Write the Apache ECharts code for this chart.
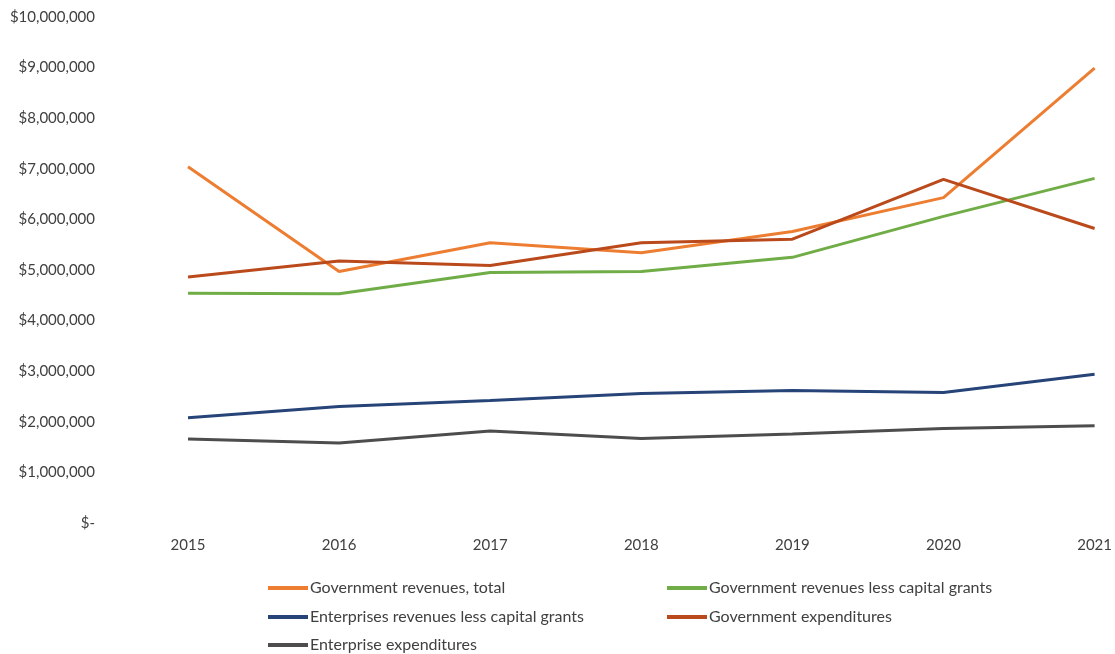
<!DOCTYPE html>
<html>
<head>
<meta charset="utf-8">
<script src="https://cdn.jsdelivr.net/npm/echarts@6/dist/echarts.min.js"></script>
<style>
  html, body { margin: 0; padding: 0; background: #ffffff; }
  #chart { width: 1115px; height: 654px; }
</style>
</head>
<body>
<div id="chart"></div>
<script>
// Fiscal years on the category axis
const years = ['2015', '2016', '2017', '2018', '2019', '2020', '2021'];

// Annual totals in dollars
const govRevenuesTotal = [7040000, 4970000, 5540000, 5340000, 5760000, 6430000, 8990000];
const govRevenuesLessGrants = [4540000, 4530000, 4950000, 4970000, 5250000, 6060000, 6810000];
const entRevenuesLessGrants = [2080000, 2300000, 2420000, 2560000, 2620000, 2580000, 2940000];
const govExpenditures = [4860000, 5180000, 5090000, 5540000, 5610000, 6790000, 5820000];
const entExpenditures = [1660000, 1580000, 1820000, 1670000, 1760000, 1870000, 1920000];

const seriesNames = [
  'Government revenues, total',
  'Government revenues less capital grants',
  'Enterprises revenues less capital grants',
  'Government expenditures',
  'Enterprise expenditures'
];
const seriesValues = [govRevenuesTotal, govRevenuesLessGrants, entRevenuesLessGrants, govExpenditures, entExpenditures];
const seriesColors = ['#ED7D31', '#70AD47', '#264478', '#BA4A1C', '#4D4D4D'];

const FONT = 'Lato, "Open Sans", sans-serif';
const TEXT_COLOR = '#404040';

function dollars(v) {
  if (v === 0) return '$-';
  return '$' + v.toLocaleString('en-US');
}

// Legend laid out as a two-column grid: [left, top] for each series entry
const legendSlots = [[268, 578], [667, 578], [268, 607], [667, 607], [268, 635]];

const legends = seriesNames.map((name, i) => ({
  left: legendSlots[i][0],
  top: legendSlots[i][1],
  padding: 0,
  data: [name],
  icon: 'rect',
  itemWidth: 40,
  itemHeight: 4,
  textStyle: { fontFamily: FONT, fontSize: 16, lineHeight: 20, color: TEXT_COLOR, padding: [0, 0, 0, -3] }
}));

const chart = echarts.init(document.getElementById('chart'), null, { renderer: 'canvas' });
chart.setOption({
  animation: false,
  backgroundColor: '#ffffff',
  grid: { left: 188, right: 20, top: 17, bottom: 131, containLabel: false },
  xAxis: {
    type: 'category',
    data: years,
    boundaryGap: false,
    axisLine: { show: false },
    axisTick: { show: false },
    splitLine: { show: false },
    axisLabel: { margin: 15, fontFamily: FONT, fontSize: 15, color: TEXT_COLOR }
  },
  yAxis: {
    type: 'value',
    min: 0,
    max: 10000000,
    interval: 1000000,
    axisLine: { show: false },
    axisTick: { show: false },
    splitLine: { show: false },
    axisLabel: { margin: 93, fontFamily: FONT, fontSize: 15, color: TEXT_COLOR, formatter: dollars }
  },
  legend: legends,
  series: seriesNames.map((name, i) => ({
    name: name,
    type: 'line',
    data: seriesValues[i],
    showSymbol: false,
    symbol: 'none',
    lineStyle: { width: 3, color: seriesColors[i] },
    itemStyle: { color: seriesColors[i] }
  }))
});
</script>
</body>
</html>
